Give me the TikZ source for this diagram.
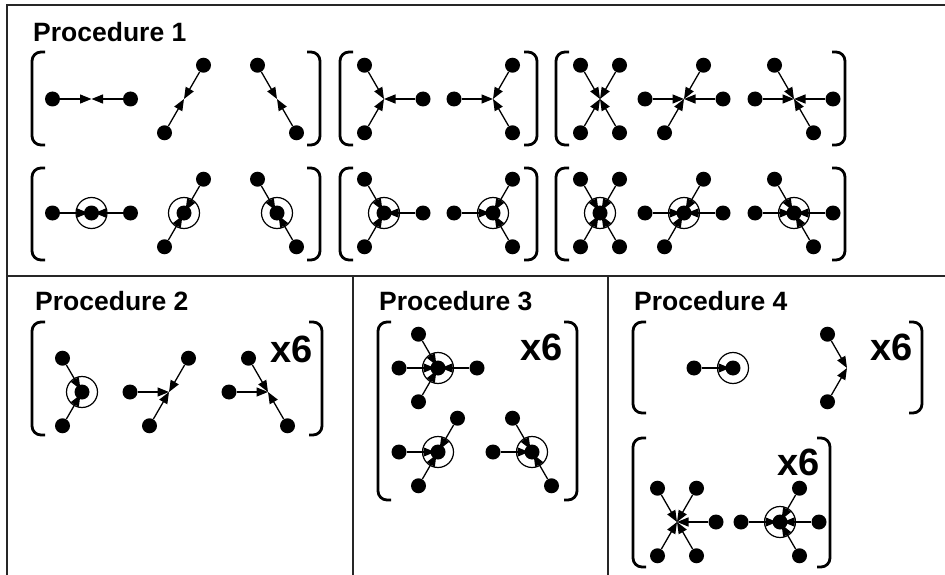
\documentclass[tikz,border=0pt]{standalone}
\usepackage{fontspec}
\setmainfont{Liberation Sans}
\usetikzlibrary{arrows.meta,calc}
\tikzset{
 dot/.style={circle,fill=black,inner sep=0pt,minimum size=15pt},
 ring/.style={circle,draw,line width=1.2pt,inner sep=0pt,minimum size=31pt},
 arr/.style={line width=1.3pt,-{Triangle[length=11.5pt,width=9pt]}},
 rarr/.style={arr,shorten >=3pt},
 brk/.style={line width=2.8pt,rounded corners=9pt},
 frame/.style={line width=2pt,draw=black!85},
 title/.style={anchor=base west,inner sep=0pt,font=\fontsize{26.5}{30}\selectfont\bfseries},
 mult/.style={anchor=base east,inner sep=0pt,font=\fontsize{38}{42}\selectfont\bfseries},
}
\newcommand{\mtf}[4]{%
  \coordinate (#1) at #2;
  \ifnum#4=1
    \node[ring] (#1o) at (#1) {};
    \node[dot] (#1c) at (#1) {};
  \fi
  \foreach \a in {#3}{
    \node[dot] (#1-\a) at ($(#1)+(-\a:39)$) {};
    \ifnum#4=1 \draw[rarr] (#1-\a) -- (#1c.center);
    \else \draw[arr] (#1-\a) -- (#1); \fi
  }
}
\newcommand{\lbr}[3]{\draw[brk] (#1+13,#2) -- (#1,#2) -- (#1,#3) -- (#1+13,#3);}
\newcommand{\rbr}[3]{\draw[brk] (#1-13,#2) -- (#1,#2) -- (#1,#3) -- (#1-13,#3);}
\begin{document}
\begin{tikzpicture}[x=1pt,y=-1pt]
\useasboundingbox (0,0) rectangle (945,575);
% frame
\draw[frame] (945,5.5) -- (7,5.5) -- (7,575);
\draw[frame] (7,275.5) -- (945,275.5);
\draw[frame] (353,275.5) -- (353,575);
\draw[frame] (608,275.5) -- (608,575);
% titles
\node[title] (t1) at (33,42) {Procedure 1};
\node[title] (t2) at (35,310) {Procedure 2};
\node[title] (t3) at (379,310) {Procedure 3};
\node[title] (t4) at (634,310) {Procedure 4};
% Procedure 1 brackets
\lbr{32}{52}{145} \rbr{320}{52}{145}
\lbr{340}{52}{145} \rbr{537}{52}{145}
\lbr{556}{52}{145} \rbr{845}{52}{145}
\lbr{32}{168}{260} \rbr{320}{168}{260}
\lbr{340}{168}{260} \rbr{537}{168}{260}
\lbr{556}{168}{260} \rbr{845}{168}{260}
% row 1
\mtf{a1}{(91.5,99)}{0,180}{0}
\mtf{a2}{(184,99)}{60,240}{0}
\mtf{a3}{(277,99)}{120,300}{0}
\mtf{a4}{(384,99)}{120,240,0}{0}
\mtf{a5}{(493,99)}{180,60,300}{0}
\mtf{a6}{(600,99)}{60,120,240,300}{0}
\mtf{a7}{(684,99)}{180,0,60,240}{0}
\mtf{a8}{(794,99)}{180,0,120,300}{0}
% row 2
\mtf{b1}{(91.5,213)}{0,180}{1}
\mtf{b2}{(184,213)}{60,240}{1}
\mtf{b3}{(277,213)}{120,300}{1}
\mtf{b4}{(384,213)}{120,240,0}{1}
\mtf{b5}{(493,213)}{180,60,300}{1}
\mtf{b6}{(600,213)}{60,120,240,300}{1}
\mtf{b7}{(684,213)}{180,0,60,240}{1}
\mtf{b8}{(794,213)}{180,0,120,300}{1}
% Procedure 2
\lbr{32}{322}{435} \rbr{322}{322}{435}
\mtf{c1}{(82,392)}{120,240}{1}
\mtf{c2}{(169,392)}{180,60,240}{0}
\mtf{c3}{(268,392)}{180,120,300}{0}
\node[mult] (m2) at (313,362) {x6};
% Procedure 3
\lbr{378}{322}{500} \rbr{577}{322}{500}
\mtf{d1}{(438,368)}{120,180,0,240}{1}
\mtf{d2}{(438,452)}{180,60,240}{1}
\mtf{d3}{(532,452)}{180,120,300}{1}
\node[mult] (m3) at (563,360) {x6};
% Procedure 4
\lbr{633}{322}{413} \rbr{922}{322}{413}
\mtf{e1}{(733,368)}{180}{1}
\mtf{e2}{(847,368)}{120,240}{0}
\node[mult] (m4) at (913,360) {x6};
\lbr{633}{438}{567} \rbr{830}{438}{567}
\mtf{f1}{(677,522)}{120,60,240,300,0}{0}
\mtf{f2}{(780,522)}{180,0,60,300}{1}
\node[mult] (m5) at (820,475) {x6};
\end{tikzpicture}
\end{document}
